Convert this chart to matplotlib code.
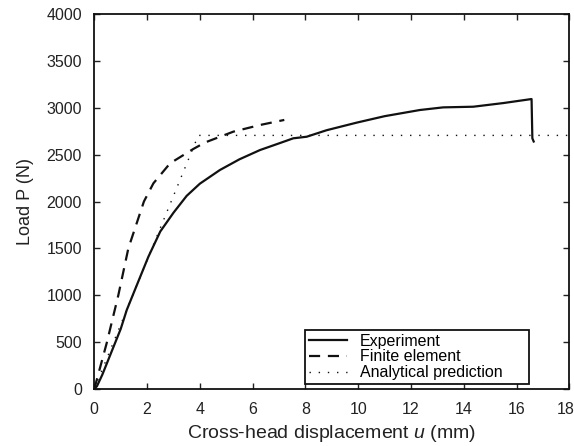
import matplotlib
matplotlib.use("Agg")
import matplotlib.pyplot as plt
import matplotlib.transforms as mtransforms

plt.rcParams['font.family'] = ['Liberation Sans', 'DejaVu Sans']
plt.rcParams['mathtext.fontset'] = 'custom'
plt.rcParams['mathtext.it'] = 'Liberation Sans:italic'
plt.rcParams['mathtext.rm'] = 'Liberation Sans'

# Experiment
exp_x = [0, 0.1, 0.3, 0.6, 1.0, 1.23, 1.6, 2.05, 2.5, 3.0, 3.5, 4.0, 4.76, 5.5, 6.28,
         7.0, 7.54, 8.05, 8.8, 9.94, 11.0, 12.34, 13.22, 14.36, 15.5, 16.57, 16.6, 16.65]
exp_y = [0, 30, 150, 360, 640, 843, 1100, 1411, 1680, 1880, 2060, 2190, 2336, 2450, 2549,
         2620, 2674, 2691, 2760, 2841, 2910, 2976, 3004, 3011, 3050, 3093, 2674, 2640]
# Finite element
fe_x = [0, 0.47, 0.91, 1.29, 1.88, 2.24, 2.87, 3.75, 4.2, 5.27, 6.28, 7.2]
fe_y = [0, 490, 1000, 1500, 2000, 2194, 2407, 2560, 2630, 2745, 2816, 2870]
# Analytical prediction
an_x = [0, 3.94, 18]
an_y = [0, 2705, 2705]

xticks = list(range(0, 19, 2))
yticks = list(range(0, 4001, 500))

fig = plt.figure(figsize=(5.74, 4.46), dpi=100)
ax = fig.add_axes([94.3/574, 1-389/446, 475/574, 375/446])

ax.plot(exp_x, exp_y, color='#111111', lw=1.6, label='Experiment')
ax.plot(fe_x, fe_y, color='#111111', lw=1.6, dashes=(5, 3.5), label='Finite element')
ax.plot(an_x, an_y, color='#111111', lw=1.0, dashes=(1, 5.6), label='Analytical prediction')

ax.set_xlim(0, 18)
ax.set_ylim(0, 4000)
ax.set_xticks(xticks)
ax.set_yticks(yticks)
ax.tick_params(direction='in', length=4, width=1, top=True, right=True,
               labelsize=11.5, colors='#222222')
ax.tick_params(axis='y', pad=9)
ax.tick_params(axis='x', pad=9)
for s in ax.spines.values():
    s.set_linewidth(1.3)
    s.set_color('#111111')

# keep the last x tick label inside the figure
last = ax.xaxis.get_major_ticks()[-1].label1
last.set_transform(last.get_transform() +
                   mtransforms.ScaledTranslation(-4/100, 0, fig.dpi_scale_trans))

ax.set_xlabel('Cross-head displacement $u$ (mm)', fontsize=14, color='#222222', labelpad=5)
ax.set_ylabel('Load P (N)', fontsize=13, color='#222222', labelpad=9)

leg = ax.legend(loc='lower left', bbox_to_anchor=(0.4436, 0.013, 0.4716, 0.1), mode='expand',
                fontsize=11.5, frameon=True, fancybox=False, edgecolor='#111111', framealpha=1,
                handlelength=2.4, labelspacing=0.05, borderpad=0.25, borderaxespad=0,
                handletextpad=0.8)
leg.get_frame().set_linewidth(1.3)

fig.savefig('out.png', dpi=100)
